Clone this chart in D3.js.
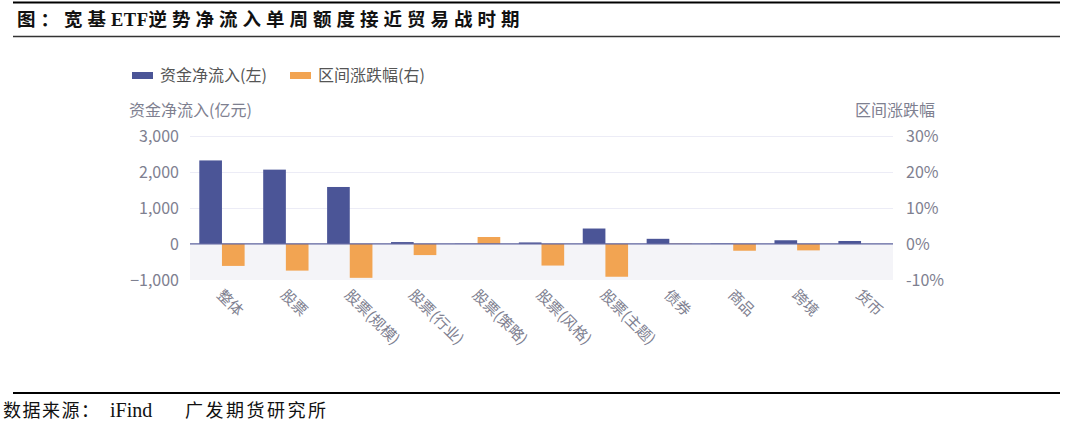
<!DOCTYPE html>
<html>
<head>
<meta charset="utf-8">
<script src="https://cdn.jsdelivr.net/npm/d3@7.9.0/dist/d3.min.js"></script>
<style>
  html, body { margin: 0; padding: 0; background: #fff; }
  svg { display: block; }
  .cjk { font-family: "Noto Sans CJK SC", "Noto Sans", sans-serif; }
  .serif { font-family: "Liberation Serif", "Noto Sans CJK SC", serif; }
</style>
</head>
<body>
<svg id="chart" width="1080" height="427"></svg>
<script>
// Data
const categories = ['整体', '股票', '股票(规模)', '股票(行业)', '股票(策略)', '股票(风格)', '股票(主题)', '债券', '商品', '跨境', '货币'];
const netInflow = [2310, 2055, 1575, 50, 5, 40, 425, 140, 10, 100, 80];   // 亿元, left axis
const changePct = [-6.1, -7.4, -9.4, -3.1, 1.9, -6.0, -9.1, 0.1, -1.9, -1.8, 0.0]; // %, right axis
const leftTicks = [-1000, 0, 1000, 2000, 3000];
const rightTicks = [-10, 0, 10, 20, 30];

const blue = '#4b5597';
const orange = '#f2a452';
const textGray = '#7e8090';

const svg = d3.select('#chart');

// Frame lines
svg.append('line').attr('x1', 13).attr('x2', 1060).attr('y1', 2.5).attr('y2', 2.5)
  .attr('stroke', '#000').attr('stroke-width', 2);
svg.append('line').attr('x1', 13).attr('x2', 1060).attr('y1', 36.5).attr('y2', 36.5)
  .attr('stroke', '#333').attr('stroke-width', 1.5);
svg.append('line').attr('x1', 13).attr('x2', 1060).attr('y1', 393).attr('y2', 393)
  .attr('stroke', '#000').attr('stroke-width', 2.2);

// Title: CJK spaced out, Latin tight
const title = svg.append('text')
  .attr('class', 'serif')
  .attr('x', 17).attr('y', 26)
  .attr('font-weight', 'bold').attr('font-size', 18.5)
  .attr('fill', '#111');
title.append('tspan').attr('letter-spacing', 5).text('图：宽基');
title.append('tspan').attr('letter-spacing', 0.5).text('ETF');
title.append('tspan').attr('letter-spacing', 5).text('逆势净流入单周额度接近贸易战时期');

// Source
const source = svg.append('text')
  .attr('class', 'serif')
  .attr('x', 3).attr('y', 417)
  .attr('font-size', 18).attr('fill', '#111');
source.append('tspan').attr('letter-spacing', 1.5).text('数据来源：');
source.append('tspan').attr('x', 110).attr('font-size', 20).text('iFind');
source.append('tspan').attr('x', 185).attr('letter-spacing', 2.5).text('广发期货研究所');

// Scales
const plotLeft = 190, plotRight = 893;
const x = d3.scaleBand().domain(categories).range([plotLeft, plotRight]);
const inner = d3.scaleBand().domain(['flow', 'pct']).range([0, x.bandwidth()]).paddingOuter(0.41);
const yL = d3.scaleLinear().domain([-1000, 3000]).range([280, 135.5]);
const yR = d3.scaleLinear().domain([-10, 30]).range([280, 135.5]);

// Shaded negative region
svg.append('rect')
  .attr('x', plotLeft).attr('width', plotRight - plotLeft)
  .attr('y', yL(0)).attr('height', yL(-1000) - yL(0))
  .attr('fill', '#f4f4f8');

// Grid lines
svg.append('g')
  .selectAll('line')
  .data(leftTicks.filter(d => d > 0))
  .join('line')
  .attr('x1', plotLeft).attr('x2', plotRight)
  .attr('y1', d => Math.round(yL(d)) + 0.5).attr('y2', d => Math.round(yL(d)) + 0.5)
  .attr('stroke', '#ececf6').attr('stroke-width', 1);

// Bars
svg.append('g')
  .selectAll('rect')
  .data(netInflow)
  .join('rect')
  .attr('x', (d, i) => x(categories[i]) + inner('flow'))
  .attr('width', inner.bandwidth())
  .attr('y', d => yL(Math.max(0, d)))
  .attr('height', d => Math.abs(yL(d) - yL(0)))
  .attr('fill', blue);

svg.append('g')
  .selectAll('rect')
  .data(changePct)
  .join('rect')
  .attr('x', (d, i) => x(categories[i]) + inner('pct'))
  .attr('width', inner.bandwidth())
  .attr('y', d => yR(Math.max(0, d)))
  .attr('height', d => Math.abs(yR(d) - yR(0)))
  .attr('fill', orange);

// Zero line
svg.append('line')
  .attr('x1', plotLeft).attr('x2', plotRight)
  .attr('y1', yL(0)).attr('y2', yL(0))
  .attr('stroke', '#5c629e').attr('stroke-width', 1.2);

// Axes
const leftAxis = svg.append('g')
  .attr('transform', `translate(${plotLeft - 8},0)`)
  .call(d3.axisLeft(yL).tickValues(leftTicks).tickSize(0).tickFormat(d3.format(',')));
leftAxis.select('.domain').remove();
leftAxis.selectAll('text')
  .attr('class', 'cjk').attr('font-size', 16).attr('fill', textGray).attr('dy', '0.36em');

const rightAxis = svg.append('g')
  .attr('transform', `translate(${plotRight + 10},0)`)
  .call(d3.axisRight(yR).tickValues(rightTicks).tickSize(0).tickFormat(d => d + '%'));
rightAxis.select('.domain').remove();
rightAxis.selectAll('text')
  .attr('class', 'cjk').attr('font-size', 16).attr('fill', textGray).attr('dy', '0.36em');

const bottomAxis = svg.append('g')
  .call(d3.axisBottom(x).tickSize(0));
bottomAxis.select('.domain').remove();
bottomAxis.selectAll('.tick')
  .attr('transform', d => `translate(${x(d) + x.bandwidth() / 2 - 6},296)`);
bottomAxis.selectAll('text')
  .attr('class', 'cjk').attr('font-size', 15).attr('fill', textGray)
  .attr('x', 0).attr('y', 0).attr('dy', 0)
  .attr('text-anchor', 'start')
  .attr('transform', 'rotate(45)');

// Axis titles
svg.append('text').attr('class', 'cjk')
  .attr('x', 129).attr('y', 116).attr('font-size', 16).attr('fill', textGray)
  .text('资金净流入(亿元)');
svg.append('text').attr('class', 'cjk')
  .attr('x', 935).attr('y', 116).attr('font-size', 16).attr('fill', textGray)
  .attr('text-anchor', 'end')
  .text('区间涨跌幅');

// Legend
const legendItems = [
  { label: '资金净流入(左)', color: blue, x: 132 },
  { label: '区间涨跌幅(右)', color: orange, x: 290 }
];
const legend = svg.append('g');
legend.selectAll('rect')
  .data(legendItems)
  .join('rect')
  .attr('x', d => d.x).attr('y', 72)
  .attr('width', 21).attr('height', 7)
  .attr('fill', d => d.color);
legend.selectAll('text')
  .data(legendItems)
  .join('text')
  .attr('class', 'cjk')
  .attr('x', d => d.x + 28).attr('y', 81)
  .attr('font-size', 16).attr('fill', '#555')
  .text(d => d.label);
</script>
</body>
</html>
